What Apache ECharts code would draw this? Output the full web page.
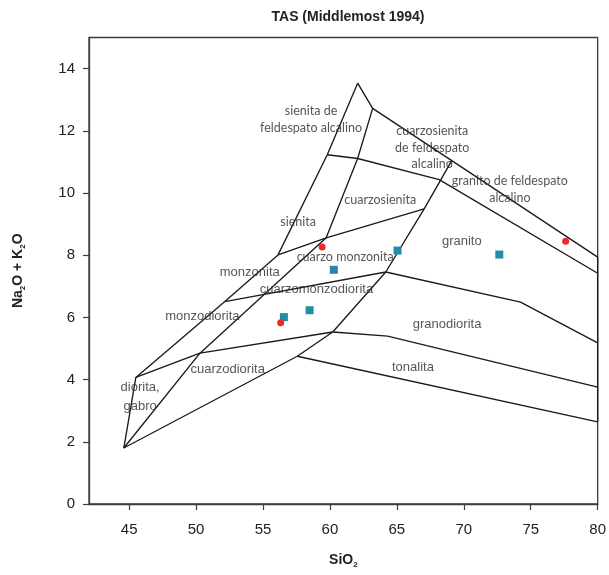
<!DOCTYPE html>
<html><head><meta charset="utf-8">
<script src="https://cdn.jsdelivr.net/npm/echarts@6/dist/echarts.min.js"></script>
<style>html,body{margin:0;padding:0;background:#fff}#chart{width:609px;height:575px}</style>
</head><body><div id="chart"></div>
<script>
// Axis ticks
const xTicks = [45, 50, 55, 60, 65, 70, 75, 80];
const yTicks = [0, 2, 4, 6, 8, 10, 12, 14];

// Field boundary polylines, [SiO2, Na2O+K2O]
const outerLeft = [[44.6, 1.8], [45.5, 4.07], [52.15, 6.51], [56.12, 8.01], [59.8, 11.23], [62.07, 13.53]];
const topEdge = [[62.07, 13.53], [63.19, 12.72], [69.1, 11.04], [80, 7.94], [80, 2.64]];
const dioriteDiagonal = [[44.6, 1.8], [50.29, 4.85], [59.72, 8.56]];
const monzodioriteBase = [[45.5, 4.07], [50.29, 4.85], [60.21, 5.53]];
const quartzDioriteBase = [[44.6, 1.8], [57.56, 4.75], [60.21, 5.53]];
const monzoniteBase = [[52.15, 6.51], [64.17, 7.46]];
const syeniteBase = [[56.12, 8.01], [59.72, 8.56], [67.04, 9.49]];
const alkaliBase = [[59.8, 11.23], [62.07, 11.11], [68.16, 10.43], [80, 7.42]];
const syeniteRight = [[63.19, 12.72], [62.07, 11.11], [59.72, 8.56]];
const graniteLeft = [[69.1, 11.04], [67.04, 9.49], [64.17, 7.46], [60.21, 5.53]];
const graniteBase = [[64.17, 7.46], [74.24, 6.49], [80, 5.18]];
const granodioriteBase = [[60.21, 5.53], [64.31, 5.40], [80, 3.76]];
const tonaliteBase = [[57.56, 4.75], [80, 2.64]];

// Samples
const redSamples = [[59.42, 8.26], [56.32, 5.83], [77.61, 8.45]];
const tealSamples = [[60.29, 7.53], [56.56, 6.01], [58.48, 6.23], [65.05, 8.15], [72.65, 8.02]];

// Field names [SiO2, Na2O+K2O, name]
const fieldNamesA = [
  [58.59, 12.36, 'sienita de\nfeldespato alcalino'],
  [67.64, 11.46, 'cuarzosienita\nde feldespato\nalcalino'],
  [73.44, 10.11, 'granito de feldespato\nalcalino'],
  [63.76, 9.79, 'cuarzosienita'],
  [57.62, 9.08, 'sienita'],
  [61.14, 7.94, 'cuarzo monzonita']
];
const fieldNamesB = [
  [69.85, 8.45, 'granito'],
  [54.01, 7.44, 'monzonita'],
  [58.99, 6.89, 'cuarzomonzodiorita'],
  [50.47, 6.04, 'monzodiorita'],
  [52.36, 4.32, 'cuarzodiorita'],
  [45.82, 3.43, 'diorita,\ngabro'],
  [68.75, 5.78, 'granodiorita'],
  [66.2, 4.39, 'tonalita']
];

const boundaries = [outerLeft, topEdge, dioriteDiagonal, monzodioriteBase, quartzDioriteBase,
  monzoniteBase, syeniteBase, alkaliBase, syeniteRight, graniteLeft, graniteBase,
  granodioriteBase, tonaliteBase];

const INK = '#2b2b2b';
const AX = '#3c3c3c';
const SANS = '"Liberation Sans", Arial, sans-serif';
const HUMAN = 'Lato, "Open Sans", sans-serif';

const lineSeries = boundaries.map(pts => ({
  type: 'line', data: pts, showSymbol: false, silent: true, animation: false,
  clip: false, lineStyle: { color: '#1a1a1a', width: 1.35 }, z: 2
}));

function labelSeries(arr, font, size, lh) {
  return {
    type: 'scatter', symbolSize: 0, silent: true, animation: false, z: 3,
    data: arr.map(d => ({ value: [d[0], d[1]], name: d[2] })),
    label: {
      show: true, position: 'inside', formatter: p => p.name,
      color: INK, fontFamily: font, fontSize: size, lineHeight: lh,
      align: 'center', verticalAlign: 'middle'
    }
  };
}

const chart = echarts.init(document.getElementById('chart'), null, { renderer: 'canvas' });
chart.setOption({
  animation: false,
  backgroundColor: '#fff',
  grid: { left: 89, right: 9, top: 37.5, bottom: 71, show: true, borderColor: AX, borderWidth: 1.3, backgroundColor: 'transparent' },
  graphic: [{
    type: 'text', x: 348, y: 17,
    style: { text: 'TAS (Middlemost 1994)', align: 'center', verticalAlign: 'middle',
      font: 'bold 14px "Liberation Sans", Arial, sans-serif', fill: '#222' }
  }],
  xAxis: {
    type: 'value', min: 42, max: 80,
    name: 'SiO{s|2}', nameLocation: 'middle', nameGap: 47,
    nameTextStyle: { fontFamily: SANS, fontWeight: 'bold', fontSize: 14, color: '#222', lineHeight: 18,
      rich: { s: { fontFamily: SANS, fontWeight: 'bold', fontSize: 8, color: '#222', verticalAlign: 'bottom', lineHeight: 18, padding: [6, 0, 0, 0] } } },
    axisLine: { show: true, lineStyle: { color: AX, width: 1.3 } },
    axisTick: { show: true, length: 6, inside: false, customValues: xTicks, lineStyle: { color: AX, width: 1.2 } },
    axisLabel: { customValues: xTicks, margin: 18, fontFamily: SANS, fontSize: 15, color: '#222' },
    splitLine: { show: false }
  },
  yAxis: {
    type: 'value', min: 0, max: 15,
    name: 'Na{s|2}O + K{s|2}O', nameLocation: 'middle', nameGap: 62,
    nameTextStyle: { fontFamily: SANS, fontWeight: 'bold', fontSize: 14, color: '#222', lineHeight: 18,
      rich: { s: { fontFamily: SANS, fontWeight: 'bold', fontSize: 8, color: '#222', verticalAlign: 'bottom', lineHeight: 18, padding: [6, 0, 0, 0] } } },
    axisLine: { show: true, lineStyle: { color: AX, width: 1.3 } },
    axisTick: { show: true, length: 6, customValues: yTicks, lineStyle: { color: AX, width: 1.2 } },
    axisLabel: { customValues: yTicks, margin: 14, fontFamily: SANS, fontSize: 15, color: '#222' },
    splitLine: { show: false }
  },
  series: [
    ...lineSeries,
    labelSeries(fieldNamesA, HUMAN, 12.5, 16.3),
    labelSeries(fieldNamesB, SANS, 13, 19),
    { type: 'scatter', data: tealSamples, symbol: 'rect', symbolSize: 8, z: 5, animation: false,
      itemStyle: { color: '#238ca5', opacity: 1 } },
    { type: 'scatter', data: redSamples, symbol: 'circle', symbolSize: 7, z: 5, animation: false,
      itemStyle: { color: '#ee2a2c', opacity: 1 } }
  ]
});
</script>
</body></html>
